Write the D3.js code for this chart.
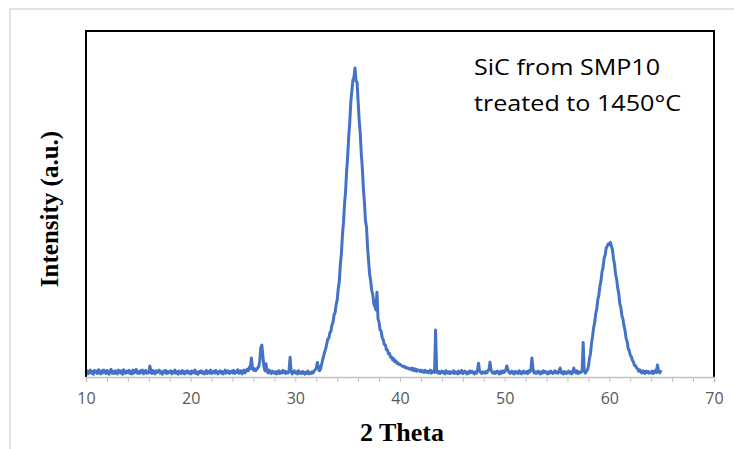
<!DOCTYPE html>
<html><head><meta charset="utf-8">
<script src="https://cdn.jsdelivr.net/npm/d3@7"></script>
<style>body{margin:0;background:#fff}svg{display:block}</style>
</head><body>
<svg id="c" width="734" height="449"></svg>
<script>
// 2-theta grid: 10.0 .. 65.0, step 0.1 (one row per degree)
const thetaStart = 10, thetaStep = 0.1;
const intensity = [
12,18,9,15,20,11,16,8,19,14,
17,10,21,13,9,18,12,20,15,10,
19,13,8,17,22,11,16,10,18,14,
9,20,15,12,18,8,21,14,11,17,
13,19,10,16,9,20,12,15,22,11,
16,10,18,13,20,9,15,19,11,14,
12,32,17,10,19,14,9,18,13,16,
20,11,15,8,17,13,19,10,16,12,
14,18,9,16,12,20,11,15,8,17,
13,10,19,14,9,16,12,18,11,15,
9,17,12,15,20,10,14,8,16,13,
18,11,15,9,14,19,10,16,12,20,
10,14,17,11,19,13,9,15,18,12,
16,9,13,20,11,15,18,10,14,17,
12,19,10,16,13,21,11,14,18,9,
15,20,12,17,22,18,28,24,55,26,
20,24,18,22,26,30,45,85,92,60,
30,18,38,16,12,20,14,10,17,13,
11,16,9,14,18,10,15,12,19,13,
17,10,14,12,20,57,15,9,13,18,
12,15,9,18,11,14,10,16,13,8,
14,11,17,9,13,10,15,12,18,20,
25,42,30,18,22,35,48,60,72,82,
95,110,112,128,132,150,158,180,186,210,
222,255,276,325,356,410,446,500,536,595,
636,695,736,795,826,858,866,893,855,852,
795,742,705,646,604,546,505,452,433,376,
334,296,278,250,238,212,203,194,245,168,
158,136,133,114,108,94,93,79,78,67,
68,57,58,49,53,44,47,40,41,36,
37,34,32,30,31,27,28,25,26,23,
22,26,20,24,18,23,17,21,19,16,
20,15,18,13,19,14,17,12,16,20,
11,15,18,13,136,20,12,16,10,14,
17,12,15,9,18,13,11,16,10,14,
12,18,10,15,13,9,17,11,14,19,
10,14,17,12,9,15,11,18,13,16,
12,9,15,11,17,40,18,13,10,15,
14,11,16,12,18,22,43,20,13,11,
15,10,14,17,12,9,16,11,18,13,
14,20,32,22,15,10,13,17,11,9,
16,12,15,10,18,13,9,14,17,11,
13,16,10,18,14,20,55,24,12,15,
10,14,17,12,9,15,11,18,13,16,
12,9,15,11,17,13,10,14,18,12,
15,11,18,26,12,14,9,16,13,10,
14,17,11,15,9,13,26,16,12,18,
10,15,12,14,17,100,18,11,16,20,
30,53,68,98,118,143,157,183,197,224,
237,263,277,304,317,343,352,373,378,385,
383,389,378,367,342,325,297,283,257,241,
212,201,177,168,147,135,112,103,82,77,
63,59,48,44,33,33,26,24,17,21,
15,12,18,14,10,17,13,16,11,14,
12,17,10,15,19,13,35,18,12,16,
14
];
const xTicks = [10,20,30,40,50,60,70];
const xMinorTicks = [12,14,16,18,22,24,26,28,32,34,36,38,42,44,46,48,52,54,56,58,62,64,66,68];
const xTitle = "2 Theta";
const yTitle = "Intensity (a.u.)";
const noteLines = ["SiC from SMP10", "treated to 1450°C"];

const svg = d3.select("#c");
const L = 86, R = 714, T = 31, B = 377;
const x = d3.scaleLinear().domain([10,70]).range([L,R]);
const y = d3.scaleLinear().domain([0,1000]).range([B,T]);

// outer chart border
svg.append("rect").attr("x",10).attr("y",9).attr("width",760).attr("height",460)
  .attr("fill","none").attr("stroke","#d9d9d9").attr("stroke-width",1.5);

const data = intensity.map((v,i)=>({t: +(thetaStart + i*thetaStep).toFixed(1), v}));

const line = d3.line().x(d=>x(d.t)).y(d=>y(d.v));
svg.append("path").datum(data).attr("d",line).attr("fill","none")
  .attr("stroke","#4472C4").attr("stroke-width",3).attr("stroke-linejoin","round");

// plot frame (left, top, right black)
svg.append("path").attr("d",`M${L},${B}V${T}H${R}V${B}`).attr("fill","none")
  .attr("stroke","#000").attr("stroke-width",2);

// x axis
const gx = svg.append("g").attr("transform",`translate(0,${B})`);
gx.call(d3.axisBottom(x).tickValues(xMinorTicks).tickSize(5).tickFormat(""));
const gx2 = svg.append("g").attr("transform",`translate(0,${B})`)
  .call(d3.axisBottom(x).tickValues(xTicks).tickSize(5).tickPadding(8).tickFormat(d3.format("d")));
svg.selectAll("g .domain").attr("stroke","#bfbfbf").attr("stroke-width",1.5);
svg.selectAll("g .tick line").attr("stroke","#bfbfbf").attr("stroke-width",1);
gx.select(".domain").remove();
gx2.selectAll(".tick text").attr("fill","#595959").attr("font-family","'Open Sans', sans-serif")
  .attr("font-size",16).attr("dy","0.85em");

// titles
svg.append("text").attr("x",402).attr("y",441).attr("text-anchor","middle")
  .attr("font-family","'Liberation Serif', serif").attr("font-weight","bold").attr("font-size",26)
  .text(xTitle);
svg.append("text").attr("transform","translate(58,209) rotate(-90)").attr("text-anchor","middle")
  .attr("font-family","'Liberation Serif', serif").attr("font-weight","bold").attr("font-size",25)
  .text(yTitle);

// annotation
const noteWidths = [186, 207];
svg.append("g").selectAll("text").data(noteLines).join("text")
  .attr("x",474).attr("y",(d,i)=>75+i*36)
  .attr("font-family","'Open Sans', sans-serif").attr("font-size",22).attr("fill","#000")
  .attr("textLength",(d,i)=>noteWidths[i]).attr("lengthAdjust","spacingAndGlyphs")
  .text(d=>d);
</script>
</body></html>
